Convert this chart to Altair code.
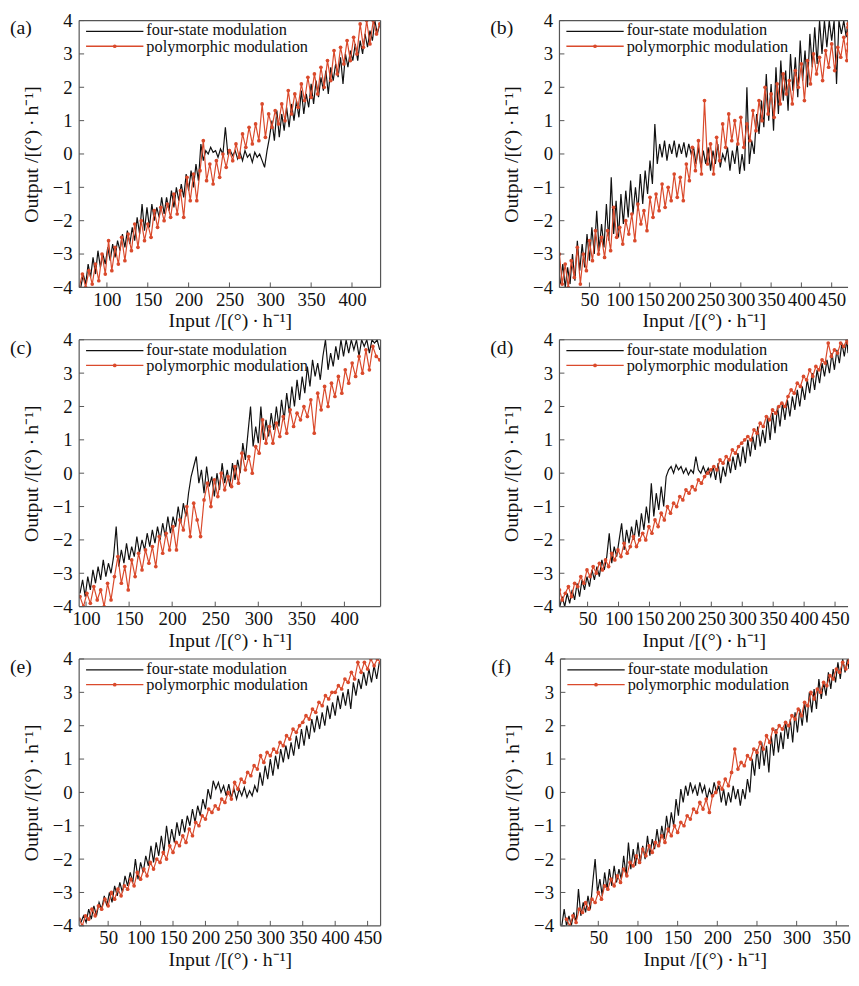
import altair as alt
import pandas as pd

RED = "#da4a2c"
BLACK = "#111111"
FRAME = "#555555"
SERIF = "Liberation Serif"
XTITLE = "Input /[(°)\u2009·\u2009h⁻¹]"
YTITLE = "Output /[(°)\u2009·\u2009h⁻¹]"
WL, WR, H = 305, 292, 270

# ---------------- data: (start, step) of input grid + output values ----------------
# panel (a)
a_black_start, a_black_step = 68, 3
a_black = [-4.1, -3.6, -3.9, -3.3, -3.7, -3.1, -3.6, -2.9, -3.4, -3.0,
           -3.3, -2.8, -3.2, -2.7, -3.1, -2.6, -2.9, -2.4, -2.8, -2.3,
           -2.7, -2.2, -2.6, -1.9, -2.4, -1.5, -2.3, -1.6, -2.2, -1.5,
           -2.0, -1.6, -1.9, -1.3, -1.8, -1.3, -1.7, -1.1, -1.6, -1.0,
           -1.4, -0.9, -1.3, -0.6, -1.1, -0.5, -1.0, -0.3, -0.8, 0.3,
           -0.2, 0.1, 0.0, 0.2, 0.05, 0.1, -0.1, 0.15, 0.0, 0.8,
           0.0, 0.1, -0.05, 0.1, -0.15, 0.05, -0.2, 0.1, -0.1, 0.0,
           -0.25, 0.05, -0.1, 0.0, -0.2, -0.4, 0.1, 0.5, 1.0, 0.4,
           1.3, 0.5, 1.2, 0.7, 1.4, 0.8, 1.5, 1.0, 1.6, 1.1,
           1.9, 1.2, 1.8, 1.4, 2.1, 1.5, 2.2, 1.7, 2.3, 1.9,
           2.5, 1.8, 2.6, 2.2, 2.7, 2.3, 2.9, 2.1, 3.0, 2.6,
           3.1, 2.8, 3.3, 2.8, 3.4, 3.0, 3.6, 3.2, 3.7, 3.4,
           4.0, 3.6, 3.9]
a_red_start, a_red_step = 66, 4
a_red = [-4.0, -3.6, -4.0, -3.5, -3.9, -3.3, -3.8, -3.0, -3.6, -2.6,
         -3.5, -2.8, -3.3, -2.5, -3.2, -2.4, -2.9, -2.1, -2.8, -2.0,
         -2.6, -2.1, -2.5, -1.7, -2.2, -1.6, -2.0, -1.5, -1.9, -1.2,
         -1.8, -1.1, -1.9, -0.7, -1.4, -0.6, -1.4, -0.5, 0.4, -0.8,
         -0.3, -0.9, -0.2, -0.7, 0.0, -0.4, 0.1, -0.2, 0.3, -0.1,
         0.6, 0.2, 0.8, 0.3, 0.9, 0.4, 1.5, 0.5, 1.2, 0.8,
         1.3, 0.9, 1.5, 1.0, 1.9, 1.2, 1.8, 1.4, 2.1, 1.6,
         2.3, 1.7, 2.4, 1.8, 2.6, 2.0, 2.8, 2.2, 3.1, 2.4,
         3.2, 2.7, 3.4, 2.8, 3.5, 3.0, 3.9, 3.2, 4.0, 3.3,
         4.0, 3.6, 3.9]

# panel (b)
b_black_start, b_black_step = 2, 4
b_black = [-3.9, -3.3, -4.1, -3.4, -3.9, -3.0, -3.8, -2.6, -3.5, -2.7,
           -3.4, -2.4, -3.2, -2.2, -3.0, -1.7, -2.9, -2.1, -2.8, -1.5,
           -2.6, -0.7, -2.4, -1.4, -2.5, -1.2, -2.1, -1.1, -1.9, -0.8,
           -1.8, -1.0, -1.7, -0.6, -1.5, -0.5, -1.2, -0.2, -0.9, 0.9,
           -0.3, 0.3, -0.1, 0.4, -0.2, 0.3, 0.0, 0.4, -0.1, 0.3,
           0.0, 0.35, -0.1, 0.3, 0.0, 0.2, -0.3, 0.2, -0.4, 0.1,
           -0.3, 0.2, -0.5, 0.1, -0.3, 0.3, -0.4, 0.0, -0.2, 0.2,
           -0.5, 0.1, -0.3, 0.3, -0.6, 0.0, -0.5, 2.0, -0.3, 0.4,
           0.0, 1.2, 0.6, 1.6, 0.8, 2.4, 1.0, 2.1, 0.7, 2.6,
           1.2, 2.8, 1.6, 2.5, 1.3, 3.0, 1.9, 2.9, 1.7, 3.4,
           2.2, 3.1, 2.0, 3.6, 2.6, 3.8, 2.7, 4.1, 3.0, 4.2,
           3.2, 4.0, 3.4, 4.2, 2.1, 4.1, 3.6, 4.3, 3.5, 4.2,
           3.8, 4.3, 3.4, 4.1, 3.9, 4.2]
b_red_start, b_red_step = 0, 5
b_red = [-3.0, -3.9, -3.3, -4.0, -3.2, -3.7, -2.8, -3.9, -3.0, -3.5,
         -2.6, -3.2, -2.3, -3.0, -2.5, -3.1, -2.3, -2.9, -1.6, -2.5,
         -2.2, -2.7, -2.0, -2.4, -1.8, -2.6, -1.5, -2.1, -1.7, -2.3,
         -1.3, -1.9, -1.2, -1.7, -0.9, -1.6, -1.0, -1.4, -0.6, -1.3,
         -0.7, -1.4, -0.3, -0.8, 0.2, -0.5, 0.4, -0.6, 1.6, -0.3,
         0.3, -0.6, 0.5, -0.2, 0.9, 0.2, 1.2, 0.4, 1.0, 0.3,
         1.1, 0.2, 0.9, 0.4, 1.3, 0.7, 1.6, 1.0, 2.0, 1.2,
         1.8, 1.1, 2.1, 1.5, 2.4, 1.8, 2.2, 1.5, 2.5, 2.0,
         2.7, 1.6, 2.8, 2.1, 3.0, 2.4, 2.9, 2.2, 3.1, 2.6,
         3.3, 2.5, 3.2, 2.9, 3.5, 2.8, 3.6, 3.1, 3.8, 3.3,
         3.9, 3.6]

# panel (c)
c_black_start, c_black_step = 93, 3
c_black = [-3.6, -3.2, -3.7, -3.1, -3.5, -2.9, -3.3, -2.8, -3.2, -2.6,
           -3.1, -2.7, -3.0, -2.5, -1.6, -2.8, -2.3, -2.7, -2.1, -2.6,
           -2.2, -2.5, -1.9, -2.4, -2.0, -2.3, -1.8, -2.2, -1.7, -2.1,
           -1.6, -2.0, -1.5, -1.9, -1.3, -1.8, -1.3, -1.6, -1.0, -1.5,
           -0.9, -1.3, -0.6, -0.1, 0.2, 0.5, -0.3, 0.1, -0.6, 0.2,
           -0.4, -0.1, -0.7, 0.0, -0.5, 0.3, -0.3, 0.1, -0.4, 0.3,
           -0.2, 0.4, 0.0, 0.9, 0.4, 1.2, 2.0, 0.8, 1.4, 0.9,
           2.0, 1.0, 1.6, 1.1, 1.8, 1.3, 2.0, 1.4, 2.2, 1.6,
           2.4, 1.8, 2.6, 2.0, 2.8, 2.2, 2.9, 2.4, 3.2, 2.6,
           3.4, 2.9, 3.3, 2.8, 3.5, 4.0, 3.1, 3.6, 3.2, 3.8,
           3.4, 4.0, 3.5, 4.1, 3.6, 4.2, 3.7, 4.1, 3.5, 4.2,
           3.8, 4.1, 3.6, 4.2, 3.9, 4.1, 3.7]
c_red_start, c_red_step = 93, 4
c_red = [-3.7, -4.0, -3.6, -3.9, -3.4, -3.8, -3.5, -4.0, -3.3, -3.8,
         -3.1, -2.5, -3.3, -2.8, -3.5, -2.6, -3.1, -2.4, -2.9, -2.3,
         -2.7, -2.2, -2.8, -1.9, -2.4, -1.8, -2.3, -1.6, -2.3, -1.4,
         -1.7, -1.0, -1.9, -0.9, -1.4, -1.9, -0.8, -0.3, -1.0, -0.2,
         -0.7, 0.0, -0.5, -0.1, -0.4, 0.2, -0.3, 0.6, 0.1, 0.5,
         0.0, 0.8, 0.6, 1.6, 0.9, 1.4, 0.9, 1.5, 1.1, 1.7,
         1.2, 1.9, 1.4, 1.8, 1.6, 2.0, 1.7, 2.2, 1.2, 2.4,
         1.9, 2.6, 2.0, 2.7, 2.3, 2.9, 2.4, 3.1, 2.7, 3.3,
         2.9, 3.5, 3.0, 3.7, 3.1, 3.8, 3.5, 3.4]

# panel (d)
d_black_start, d_black_step = 5, 4
d_black = [-4.1, -3.7, -4.0, -3.6, -3.9, -3.5, -3.8, -3.3, -3.7, -3.2,
           -3.5, -3.1, -3.4, -2.9, -3.2, -2.8, -3.1, -2.6, -2.9, -2.5,
           -1.8, -2.7, -2.2, -2.5, -2.0, -1.5, -2.3, -1.7, -2.1, -1.6,
           -2.0, -1.4, -1.9, -1.2, -1.7, -1.0, -1.5, -0.3, -1.3, -0.6,
           -1.1, -0.4, -1.0, -0.1, 0.1, 0.2, 0.0, 0.25, 0.1, 0.2,
           0.0, 0.15, -0.05, 0.1, 0.0, 0.5, 0.1, 0.0, 0.2, 0.0,
           0.15, -0.1, 0.2, -0.2, 0.3, -0.3, 0.2, -0.1, 0.4, 0.0,
           0.5, 0.1, 0.6, 0.2, 0.8, 0.3, 1.0, 0.5, 1.1, 0.7,
           1.4, 0.8, 1.3, 0.9, 1.7, 1.0, 1.8, 1.2, 2.0, 1.4,
           2.1, 1.6, 2.2, 1.7, 2.3, 1.9, 2.5, 2.0, 2.6, 2.2,
           2.8, 2.4, 3.0, 2.5, 3.1, 2.7, 3.3, 2.9, 3.4, 3.0,
           3.6, 3.1, 3.7, 3.3, 3.9, 3.5, 4.0, 3.6, 4.0]
d_red_start, d_red_step = 4, 5
d_red = [-3.5, -3.8, -3.6, -3.4, -3.7, -3.3, -3.4, -3.1, -3.3, -2.9,
         -3.1, -2.8, -3.0, -2.7, -2.9, -2.6, -2.8, -2.4, -2.6, -2.3,
         -2.5, -2.1, -2.4, -2.2, -1.9, -2.2, -2.0, -1.8, -2.0, -1.6,
         -1.8, -1.4, -1.6, -1.2, -1.4, -1.0, -1.2, -0.9, -1.0, -0.7,
         -0.8, -0.5, -0.6, -0.4, -0.5, -0.2, -0.3, -0.1, 0.0, 0.1,
         0.2, 0.1, 0.4, 0.3, 0.5, 0.4, 0.7, 0.6, 0.8, 0.9,
         1.0, 1.1, 1.0, 1.3, 1.2, 1.5, 1.4, 1.7, 1.6, 1.9,
         1.8, 2.0, 2.1, 2.0, 2.3, 2.5, 2.4, 2.7, 2.6, 2.9,
         2.8, 3.1, 2.9, 3.2, 3.1, 3.4, 3.3, 3.9, 3.5, 3.7,
         3.6, 3.9, 3.8, 4.0, 3.9, 4.0]

# panel (e)
e_black_start, e_black_step = 8, 4
e_black = [-3.9, -3.7, -3.9, -3.5, -3.8, -3.4, -3.7, -3.3, -3.5, -3.1,
           -3.4, -3.0, -3.3, -2.8, -3.1, -2.7, -3.0, -2.5, -2.8, -2.4,
           -2.7, -2.0, -2.6, -2.1, -2.4, -1.9, -2.2, -1.6, -2.1, -1.5,
           -1.9, -1.3, -1.8, -1.0, -1.6, -1.1, -1.5, -0.9, -1.3, -0.8,
           -1.2, -0.7, -1.0, -0.5, -0.9, -0.4, -0.7, -0.2, -0.5, 0.1,
           -0.2, 0.35, 0.1, 0.3, 0.0, 0.2, -0.1, 0.25, -0.15, 0.1,
           -0.2, 0.1, -0.1, 0.15, -0.15, 0.05, -0.1, 0.2, 0.0, 0.6,
           0.2, 0.8, 0.4, 1.0, 0.5, 1.1, 0.7, 1.3, 0.9, 1.4,
           1.0, 1.5, 1.1, 1.7, 1.3, 1.9, 1.4, 2.0, 1.6, 2.2,
           1.8, 2.3, 1.9, 2.4, 2.0, 2.6, 2.2, 2.7, 2.3, 2.9,
           2.5, 3.0, 2.6, 3.1, 2.5, 3.3, 2.9, 3.4, 3.1, 3.6,
           3.2, 3.7, 3.3, 3.8, 3.4, 3.9]
e_red_start, e_red_step = 5, 5
e_red = [-3.8, -4.0, -3.7, -3.8, -3.5, -3.7, -3.4, -3.5, -3.2, -3.4,
         -3.0, -3.2, -2.9, -3.1, -2.8, -2.9, -2.6, -2.8, -2.4, -2.6,
         -2.3, -2.5, -2.1, -2.3, -2.0, -2.1, -1.8, -2.0, -1.6, -1.8,
         -1.5, -1.6, -1.3, -1.5, -1.1, -1.3, -0.9, -1.0, -0.7, -0.8,
         -0.5, -0.6, -0.4, -0.5, -0.2, -0.3, 0.0, -0.2, 0.3, 0.1,
         0.4, 0.3, 0.6, 0.5, 0.8, 0.7, 1.1, 0.9, 1.2, 1.1,
         1.3, 1.2, 1.5, 1.4, 1.7, 1.6, 1.9, 1.8, 2.0, 2.1,
         2.3, 2.2, 2.5, 2.4, 2.7, 2.6, 2.9, 2.8, 3.0, 3.0,
         3.2, 3.1, 3.4, 3.3, 3.6, 3.4, 3.9, 3.6, 3.9, 3.7,
         4.0, 3.8, 4.0, 3.9]

# panel (f)
f_black_start, f_black_step = 4, 3
f_black = [-4.0, -3.5, -4.1, -3.7, -4.0, -3.6, -3.9, -2.9, -3.7, -3.3,
           -3.6, -3.1, -3.5, -2.7, -2.0, -3.0, -2.6, -3.1, -2.4, -2.9,
           -2.3, -2.8, -2.2, -2.7, -2.3, -2.6, -1.9, -2.5, -1.5, -2.3,
           -1.7, -2.2, -1.5, -2.1, -1.6, -2.0, -1.3, -1.9, -1.4, -1.7,
           -1.1, -1.6, -1.0, -1.4, -0.7, -1.2, -0.6, -1.0, -0.2, -0.7,
           0.1, -0.3, 0.2, -0.1, 0.3, 0.0, 0.2, -0.1, 0.3, 0.0,
           0.2, -0.2, 0.1, -0.1, 0.3, 0.0, 0.2, -0.3, 0.1, -0.4,
           0.0, -0.3, 0.2, -0.2, 0.1, -0.4, 0.1, -0.2, 0.4, 0.0,
           1.0, 0.5, 1.3, 0.7, 1.5, 0.8, 1.4, 0.6, 1.7, 1.1,
           1.9, 1.2, 1.8, 1.3, 2.1, 1.6, 2.2, 1.5, 2.4, 1.8,
           2.5, 2.0, 2.7, 2.1, 3.0, 2.4, 3.1, 2.5, 3.4, 2.8,
           3.3, 2.9, 3.6, 3.1, 3.7, 3.3, 3.9, 3.4, 4.0, 3.6,
           4.0, 3.7, 4.1, 3.8]
f_red_start, f_red_step = 10, 4
f_red = [-3.8, -4.0, -3.7, -3.9, -3.5, -3.6, -3.3, -3.5, -3.2, -3.3,
         -3.0, -3.2, -2.8, -2.9, -2.6, -2.8, -2.5, -2.7, -2.3, -2.5,
         -2.1, -2.2, -1.9, -2.1, -1.7, -1.9, -1.6, -1.8, -1.5, -1.6,
         -1.3, -1.5, -1.1, -1.3, -1.0, -1.2, -0.9, -1.0, -0.7, -0.8,
         -0.5, -0.6, -0.3, -0.5, -0.2, -0.6, -0.1, 0.0, 0.3, 0.1,
         0.4, 0.2, 0.6, 1.3, 0.7, 0.9, 0.8, 1.1, 1.0, 1.3,
         1.2, 1.5, 1.3, 1.7, 1.5, 1.9, 1.8, 2.0, 1.9, 2.1,
         2.0, 2.3, 2.2, 2.5, 2.3, 2.7, 2.6, 3.0, 2.8, 3.1,
         3.0, 3.3, 3.2, 3.5, 3.4, 3.7, 3.6, 3.9, 3.7, 4.0,
         3.9]

labels = ["(a)", "(b)", "(c)", "(d)", "(e)", "(f)"]
x_domains = [[66, 435], [0.5, 477], [92, 442], [4.5, 471], [5.3, 470], [2.3, 366]]
x_ticks = [[100, 150, 200, 250, 300, 350, 400],
           [50, 100, 150, 200, 250, 300, 350, 400, 450],
           [100, 150, 200, 250, 300, 350, 400],
           [50, 100, 150, 200, 250, 300, 350, 400, 450],
           [50, 100, 150, 200, 250, 300, 350, 400, 450],
           [50, 100, 150, 200, 250, 300, 350]]
y_ticks = [-4, -3, -2, -1, 0, 1, 2, 3, 4]
legend_names = ["four-state modulation", "polymorphic modulation"]

series = [
    (a_black_start, a_black_step, a_black, a_red_start, a_red_step, a_red),
    (b_black_start, b_black_step, b_black, b_red_start, b_red_step, b_red),
    (c_black_start, c_black_step, c_black, c_red_start, c_red_step, c_red),
    (d_black_start, d_black_step, d_black, d_red_start, d_red_step, d_red),
    (e_black_start, e_black_step, e_black, e_red_start, e_red_step, e_red),
    (f_black_start, f_black_step, f_black, f_red_start, f_red_step, f_red),
]


def grid_df(start, step, vals):
    return pd.DataFrame({"x": [start + step * i for i in range(len(vals))], "y": vals})


def panel(k):
    right_col = (k % 2 == 1)
    W = WR if right_col else WL
    bs, bst, bv, rs, rst, rv = series[k]
    black = grid_df(bs, bst, bv)
    red = grid_df(rs, rst, rv)
    xs = alt.Scale(domain=x_domains[k], nice=False, zero=False, clamp=True)
    ys = alt.Scale(domain=[-4, 4], nice=False, zero=False, clamp=True)
    xaxis = alt.Axis(values=x_ticks[k], title=XTITLE, tickSize=0, domain=False, grid=False,
                     labelPadding=3, titlePadding=2, labelFlush=False, format="d")
    yaxis = alt.Axis(values=y_ticks, title=YTITLE, tickSize=0, domain=False, grid=False,
                     labelPadding=7, titlePadding=11, format="d")
    X = lambda: alt.X("x:Q", scale=xs, axis=xaxis)
    Y = lambda: alt.Y("y:Q", scale=ys, axis=yaxis)

    lb = alt.Chart(black).mark_line(color=BLACK, strokeWidth=1.2, clip=True).encode(x=X(), y=Y())
    lr = alt.Chart(red).mark_line(color=RED, strokeWidth=1.2, clip=True).encode(x=X(), y=Y())
    pr = alt.Chart(red).mark_circle(color=RED, size=14, opacity=1, clip=True).encode(x=X(), y=Y())

    tx = alt.Chart(pd.DataFrame({"x": x_ticks[k]})).mark_rule(color=FRAME, strokeWidth=1).encode(
        x=X(), y=alt.value(H), y2=alt.value(H - 5))
    ty = alt.Chart(pd.DataFrame({"y": y_ticks})).mark_rule(color=FRAME, strokeWidth=1).encode(
        y=Y(), x=alt.value(0), x2=alt.value(5))

    one = pd.DataFrame({"a": [0]})
    frame = [
        alt.Chart(one).mark_rule(color=FRAME, strokeWidth=1.2).encode(
            x=alt.value(0), y=alt.value(0), y2=alt.value(H)),
        alt.Chart(one).mark_rule(color=FRAME, strokeWidth=1.2).encode(
            x=alt.value(0), x2=alt.value(W), y=alt.value(0)),
        alt.Chart(one).mark_rule(color=FRAME, strokeWidth=1.2).encode(
            x=alt.value(0), x2=alt.value(W), y=alt.value(H)),
    ]
    if not right_col:
        frame.append(alt.Chart(one).mark_rule(color=FRAME, strokeWidth=1.2).encode(
            x=alt.value(W), y=alt.value(0), y2=alt.value(H)))

    lg1 = alt.Chart(one).mark_rule(color=BLACK, strokeWidth=1.3).encode(
        x=alt.value(7), x2=alt.value(65), y=alt.value(11))
    lg2 = alt.Chart(one).mark_rule(color=RED, strokeWidth=1.3).encode(
        x=alt.value(7), x2=alt.value(65), y=alt.value(26))
    lgd = alt.Chart(one).mark_circle(color=RED, size=14, opacity=1).encode(
        x=alt.value(36), y=alt.value(26))
    lt1 = alt.Chart(one).mark_text(align="left", baseline="middle", font=SERIF, fontSize=16.5,
                                   color=BLACK).encode(x=alt.value(68), y=alt.value(10),
                                                       text=alt.value(legend_names[0]))
    lt2 = alt.Chart(one).mark_text(align="left", baseline="middle", font=SERIF, fontSize=16.5,
                                   color=BLACK).encode(x=alt.value(68), y=alt.value(26.5),
                                                       text=alt.value(legend_names[1]))
    pl = alt.Chart(one).mark_text(align="left", baseline="middle", font=SERIF, fontSize=20,
                                  color=BLACK).encode(x=alt.value(-70), y=alt.value(8),
                                                      text=alt.value(labels[k]))
    return alt.layer(lb, lr, pr, tx, ty, *frame, lg1, lg2, lgd, lt1, lt2, pl).properties(
        width=W, height=H)


rows = [alt.hconcat(panel(2 * r), panel(2 * r + 1), spacing=110) for r in range(3)]
chart = alt.vconcat(*rows, spacing=0).properties(
    padding={"left": 2, "top": -2, "right": 0, "bottom": -4}
).configure_view(strokeWidth=0).configure_axis(
    labelFont=SERIF, labelFontSize=19, labelColor=BLACK,
    titleFont=SERIF, titleFontSize=20, titleFontWeight="normal", titleColor=BLACK
)

chart.save("out.html", embed_options={"renderer": "svg", "actions": False})
